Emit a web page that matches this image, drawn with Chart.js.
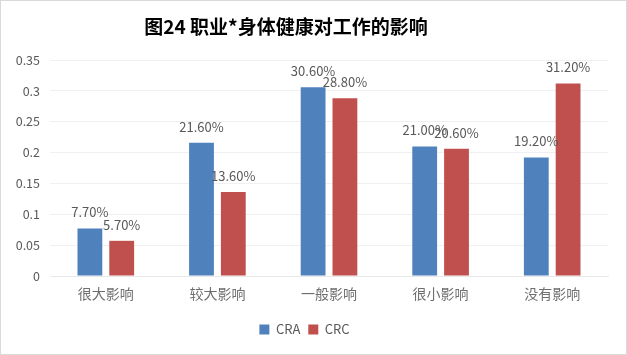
<!DOCTYPE html>
<html>
<head>
<meta charset="utf-8">
<script src="https://cdn.jsdelivr.net/npm/chart.js@4/dist/chart.umd.min.js"></script>
<style>
html,body{margin:0;padding:0;background:#fff;}
#wrap{position:relative;width:627px;height:355px;box-sizing:border-box;border:1px solid #d9d9d9;}
canvas{display:block;}
</style>
</head>
<body>
<div id="wrap"><canvas id="c" width="625" height="353"></canvas></div>
<script>
const titleText = "图24 职业*身体健康对工作的影响";
const categories = ["很大影响", "较大影响", "一般影响", "很小影响", "没有影响"];
const seriesNames = ["CRA", "CRC"];
const craValues = [0.077, 0.216, 0.306, 0.210, 0.192];
const crcValues = [0.057, 0.136, 0.288, 0.206, 0.312];
const yTicks = [0, 0.05, 0.1, 0.15, 0.2, 0.25, 0.3, 0.35];

const FONT = "'Noto Sans CJK SC', 'Noto Sans', sans-serif";
const GRAY = "#595959";

const titlePlugin = {
  id: 'customTitle',
  afterDraw(chart) {
    const ctx = chart.ctx;
    ctx.save();
    ctx.font = "bold 19px " + FONT;
    ctx.fillStyle = "#000";
    ctx.textAlign = "center";
    ctx.textBaseline = "middle";
    ctx.fillText(titleText, 285, 26);
    ctx.restore();
  }
};

const labelPlugin = {
  id: 'valueLabels',
  afterDatasetsDraw(chart) {
    const ctx = chart.ctx;
    ctx.save();
    ctx.font = "13px " + FONT;
    ctx.fillStyle = GRAY;
    ctx.textAlign = "center";
    ctx.textBaseline = "middle";
    chart.data.datasets.forEach((ds, i) => {
      const meta = chart.getDatasetMeta(i);
      meta.data.forEach((bar, j) => {
        const v = ds.data[j];
        ctx.fillText((v * 100).toFixed(2) + "%", bar.x, bar.y - 16);
      });
    });
    ctx.restore();
  }
};

new Chart(document.getElementById('c'), {
  type: 'bar',
  data: {
    labels: categories,
    datasets: [
      { label: seriesNames[0], data: craValues, backgroundColor: "#4F81BD", barPercentage: 0.78, categoryPercentage: 0.57 },
      { label: seriesNames[1], data: crcValues, backgroundColor: "#C0504D", barPercentage: 0.78, categoryPercentage: 0.57 }
    ]
  },
  options: {
    responsive: false,
    animation: false,
    layout: { padding: { left: 0, right: 18, top: 59, bottom: 8 } },
    plugins: {
      title: { display: false },
      tooltip: { enabled: false },
      legend: {
        position: 'bottom',
        labels: { boxWidth: 10, boxHeight: 10, color: GRAY, font: { family: FONT, size: 13 }, padding: 8 }
      }
    },
    scales: {
      y: {
        min: 0, max: 0.35,
        afterBuildTicks(scale) { scale.ticks = yTicks.map(v => ({ value: v })); },
        afterFit(scale) { scale.width = 49; },
        ticks: { color: GRAY, font: { family: FONT, size: 12.5 }, padding: 10, callback: v => String(v) },
        grid: { color: "#f0f0f0", drawTicks: false },
        border: { display: false }
      },
      x: {
        afterFit(scale) { scale.height = 39; },
        ticks: { color: "#6e6e6e", font: { family: FONT, size: 14 }, padding: 9 },
        grid: { display: false, drawTicks: false },
        border: { color: "#e8e8e8" }
      }
    }
  },
  plugins: [titlePlugin, labelPlugin]
});
</script>
</body>
</html>
